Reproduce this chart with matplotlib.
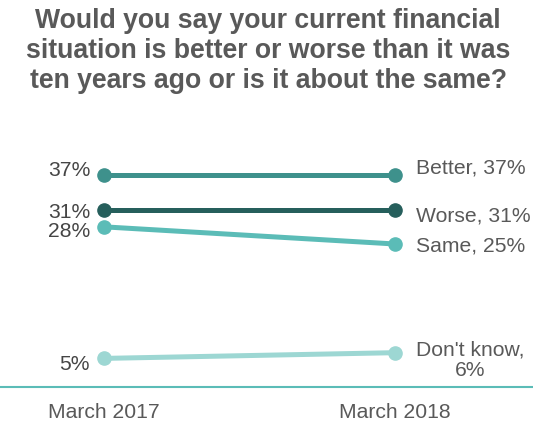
import numpy as np
import matplotlib.pyplot as plt

plt.rcParams['font.family'] = ['Liberation Sans', 'DejaVu Sans']

# data
periods = ["March 2017", "March 2018"]
series = ["Better", "Worse", "Same", "Don't know"]
start_vals = [37, 31, 28, 5]
end_vals = [37, 31, 25, 6]
colors = ["#3e918c", "#265f5c", "#5bbcb7", "#9dd7d3"]

title = ("Would you say your current financial\n"
         "situation is better or worse than it was\n"
         "ten years ago or is it about the same?")

text_col = "#595959"

fig = plt.figure(figsize=(5.33, 4.25), dpi=100)
# axes spans full width; bottom at y=387px (value 0)
ax = fig.add_axes([0, (425 - 387) / 425, 1, (387 - 140) / 425])

x = np.array([0, 1])
for name, a, b, c in zip(series, start_vals, end_vals, colors):
    ax.plot(x, [a, b], color=c, lw=3.6, marker='o', ms=9.5,
            solid_capstyle='round', zorder=3)

ax.set_xlim(-104 / 291, 1 + 138 / 291)
ax.set_ylim(0, (387 - 140) / 5.72)

# left value labels (offsets in points)
left_off = [3.6, -2, -3, -4.3]
for a, off in zip(start_vals, left_off):
    ax.annotate(f"{a}%", (0, a), xytext=(-10, off), textcoords='offset points',
                ha='right', va='center', fontsize=15.2, color="#454545")

# right labels
right_off = [5, -4.3, -1.4, -5.4]
for name, b, off in zip(series, end_vals, right_off):
    lab = f"{name}, {b}%" if name != "Don't know" else f"{name},\n{b}%"
    ax.annotate(lab, (1, b), xytext=(15, off), textcoords='offset points',
                ha='left', va='center', multialignment='center',
                fontsize=15.2, color=text_col, linespacing=1.14)

for xi, p in zip(x, periods):
    ax.annotate(p, (xi, 0), xytext=(0, -18), textcoords='offset points',
                ha='center', va='center', fontsize=15.2, color=text_col,
                annotation_clip=False)

for s in ['top', 'right', 'left']:
    ax.spines[s].set_visible(False)
ax.spines['bottom'].set_color("#5bbcb7")
ax.spines['bottom'].set_linewidth(1.5)
ax.set_xticks([])
ax.set_yticks([])
ax.patch.set_alpha(0)

fig.text(268 / 533, 1 - 51 / 425, title, ha='center', va='center',
         fontsize=19.2, fontweight='bold', color=text_col, linespacing=1.19)

fig.savefig("out.png", dpi=100)
